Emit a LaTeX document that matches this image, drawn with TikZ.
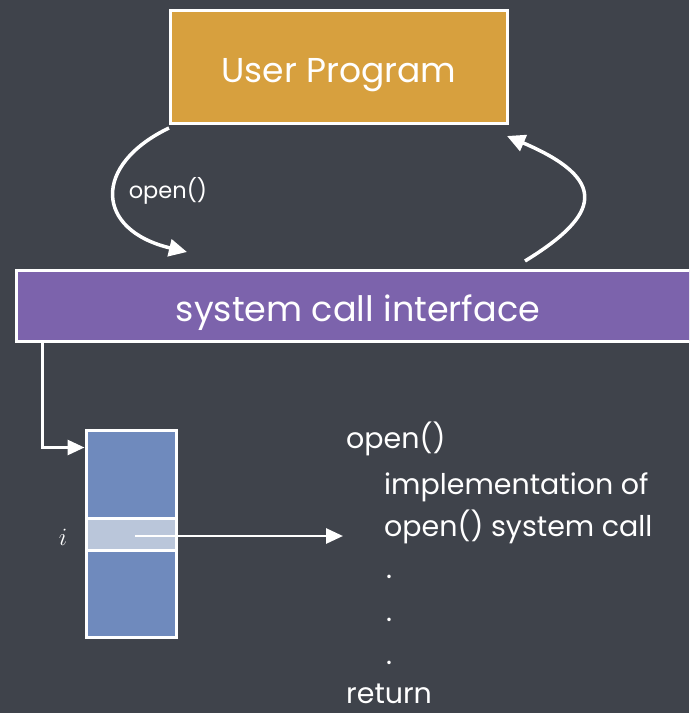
\documentclass[tikz,border=0pt]{standalone}
\usepackage{fontspec}
\setmainfont{Poppins}
\usetikzlibrary{arrows.meta}

\definecolor{board}{HTML}{3F434B}
\definecolor{userfill}{HTML}{D7A03E}
\definecolor{sysfill}{HTML}{7C63AC}
\definecolor{cellfill}{HTML}{6F8ABD}
\definecolor{cellhi}{HTML}{BAC6DA}

\tikzset{
  panel/.style={draw=white, line width=3pt, rectangle, inner sep=0pt, text=white},
  cell/.style={draw=white, line width=3pt, rectangle, inner sep=0pt, fill=cellfill},
  chalk/.style={draw=white, line width=3.5pt,
    -{Triangle[length=18pt,width=17pt]}},
  thin chalk/.style={draw=white, line width=2.8pt,
    -{Triangle[length=17pt,width=15pt]}},
  code/.style={text=white, anchor=base west, inner sep=0pt,
    font=\fontsize{28.5}{32}\selectfont},
}

\begin{document}
\begin{tikzpicture}[x=1pt,y=-1pt]
  \fill[board] (0,0) rectangle (689,713);
  \useasboundingbox (0,0) rectangle (689,713);
  \clip (0,0) rectangle (689,713);

  % user program box (text height/depth put the baseline 15pt below centre)
  \node[panel, fill=userfill, minimum width=337pt, minimum height=113pt,
        text height=30pt, text depth=0pt,
        font=\fontsize{34.5}{40}\selectfont] (user) at (339,67) {User Program};

  % system call interface bar (runs past the right edge)
  \node[panel, fill=sysfill, minimum width=684pt, minimum height=71pt,
        text height=32pt, text depth=0pt,
        font=\fontsize{35}{40}\selectfont] (sys) at (358,305.5) {system call interface};

  % call and return arcs
  \coordinate (callin) at (187,252);
  \coordinate (retout) at (525,261);
  \coordinate (retin) at (507,136);
  \draw[chalk] (user.south west) ++(0,3) .. controls (92,165) and (95,230) .. (callin);
  \draw[chalk] (retout) .. controls (600,215) and (610,180) .. (retin);
  \node[text=white, font=\fontsize{22.5}{26}\selectfont] (openlbl) at (168,191) {open()};

  % dispatch table
  \node[cell, minimum width=90pt, minimum height=88pt] (ttop) at (131,474) {};
  \node[cell, fill=cellhi, minimum width=90pt, minimum height=32pt] (tmid) at (131,534) {};
  \node[cell, minimum width=90pt, minimum height=87pt] (tbot) at (131,593.5) {};
  \node[text=white, font=\fontsize{24}{28}\selectfont] (idx) at (63,537) {$i$};

  % bar to table
  \draw[thin chalk] ([xshift=28pt]sys.south west) |- ([yshift=-19pt]ttop.north west);

  % table entry to handler
  \coordinate (entry) at (135,536);
  \coordinate (handler) at (343,536);
  \draw[thin chalk] (entry) -- (handler);

  % handler listing
  \node[code] (l1) at (346,448) {open()};
  \node[code] (l2) at (384,494) {implementation of};
  \node[code] (l3) at (384,536) {open() system call};
  \node[code] (l4) at (386,578) {.};
  \node[code] (l5) at (386,621) {.};
  \node[code] (l6) at (386,664) {.};
  \node[code] (l7) at (346,703) {return};
\end{tikzpicture}
\end{document}
